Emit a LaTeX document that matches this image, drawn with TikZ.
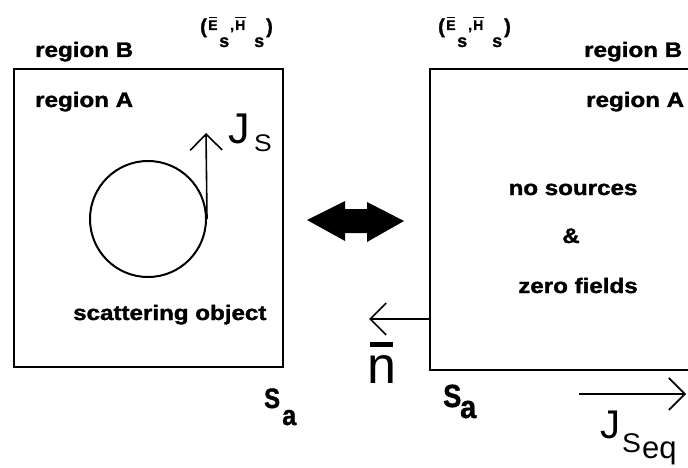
\documentclass[tikz,border=0pt]{standalone}
\usepackage{fontspec}
\setmainfont{Liberation Sans}
\newfontfamily\heavy[FakeBold=1.4]{Liberation Sans Bold}
\usepackage{graphicx}
\usetikzlibrary{arrows.meta}
% letter with a bar above it: #1 letter, #2 bar height, #3 bar width
\newcommand\barred[3]{\ooalign{#1\cr\hidewidth\rule[#2]{#3}{0.085em}\hidewidth}}
\newcommand\wide[1]{\scalebox{1.15}[1]{#1}}
\tikzset{
  txt/.style={inner sep=0pt, font=\fontsize{21}{21}\selectfont\heavy},
  big/.style={inner sep=0pt},
  frame/.style={line width=2.4pt},
  thin/.style={line width=1.6pt},
  vec/.style={thin, -{Straight Barb[length=16pt, width=32pt, line width=1.6pt]}},
  fldmain/.style={inner sep=0pt, anchor=base west, font=\fontsize{14}{14}\selectfont\heavy},
  fldparen/.style={inner sep=0pt, anchor=base west, font=\fontsize{20}{20}\selectfont\heavy},
  fldsub/.style={inner sep=0pt, anchor=base west, font=\fontsize{18}{18}\selectfont\heavy},
  sabig/.style={inner sep=0pt, anchor=base west, font=\fontsize{#1}{#1}\selectfont\heavy},
}
\begin{document}
\begin{tikzpicture}[x=1pt, y=-1pt]
\useasboundingbox (0,0) rectangle (688,468);

% scattered field pair (E_s, H_s), drawn piece by piece
\begin{scope}[shift={(200,0)}, name prefix=fL-]
  \node[fldparen] (lp) at (0,33) {(};
  \node[fldmain] (E) at (8,30) {\barred{E}{0.86em}{0.55em}};
  \node[fldsub] (sE) at (19,47) {s};
  \node[fldmain] (cm) at (30,30) {,};
  \node[fldmain] (H) at (35,30) {\barred{H}{0.86em}{0.8em}};
  \node[fldsub] (sH) at (54,47) {s};
  \node[fldparen] (rp) at (66,33) {)};
\end{scope}
\begin{scope}[shift={(438,0)}, name prefix=fR-]
  \node[fldparen] (lp) at (0,33) {(};
  \node[fldmain] (E) at (8,30) {\barred{E}{0.86em}{0.55em}};
  \node[fldsub] (sE) at (19,47) {s};
  \node[fldmain] (cm) at (30,30) {,};
  \node[fldmain] (H) at (35,30) {\barred{H}{0.86em}{0.8em}};
  \node[fldsub] (sH) at (54,47) {s};
  \node[fldparen] (rp) at (66,33) {)};
\end{scope}

% left box: scatterer with its equivalent surface current
\node[frame, draw, minimum width=269pt, minimum height=298pt, inner sep=0pt] (boxL) at (148.5,218) {};
\node[txt, anchor=base west] (regBL) at (35,57) {\wide{region B}};
\node[txt, anchor=base west] (regAL) at (35,107) {\wide{region A}};
\node[circle, draw, line width=2pt, minimum size=116pt, inner sep=0pt] (obj) at (148,219) {};
\coordinate (jsTip) at (206,133);
\draw[vec] (obj.east) -- (jsTip);
\node[big, anchor=base west, font=\fontsize{43}{43}\selectfont] (jsJ) at (228,143) {J};
\node[big, anchor=base west, font=\fontsize{24}{24}\selectfont] (jsS) at (254,152) {\scalebox{1.1}[1]{S}};
\node[txt, anchor=base west] (scat) at (73,320) {\wide{scattering object}};
\node[sabig=28] (saLS) at (264,408) {\scalebox{0.85}[1]{S}};
\node[sabig=28] (saLa) at (282,425) {\scalebox{0.9}[1]{a}};

% central equivalence arrow
\fill (307,220) -- (345,201) -- (345,209) -- (367,209) -- (367,202) -- (404,221)
      -- (367,242) -- (367,233) -- (345,233) -- (345,241) -- cycle;

% right box: equivalent problem, open to the right
\coordinate (rTop) at (688,69);
\coordinate (rTL) at (430,69);
\coordinate (rBL) at (430,370);
\coordinate (rBot) at (688,370);
\draw[frame] (rTop) -- (rTL) -- (rBL) -- (rBot);
\node[txt, anchor=base west] (regBR) at (584,57) {\wide{region B}};
\node[txt, anchor=base west] (regAR) at (586,107) {\wide{region A}};
\node[txt, anchor=base] (nosrc) at (573,195) {\wide{no sources}};
\node[txt, anchor=base] (amp) at (571,243) {\wide{\&}};
\node[txt, anchor=base] (zero) at (578,293) {\wide{zero fields}};

% outward normal on the surface
\coordinate (nBase) at (430,319);
\coordinate (nTip) at (369,319);
\draw[vec] (nBase) -- (nTip);
\node[big, anchor=base west, font=\fontsize{52}{52}\selectfont] (nlab) at (367,383)
  {\barred{n}{0.7em}{0.44em}};

% surface labels and equivalent current
\node[sabig=32] (saRS) at (443,407) {\scalebox{0.85}[1]{S}};
\node[sabig=32] (saRa) at (460,418) {\scalebox{0.9}[1]{a}};
\coordinate (jeqBase) at (579,394);
\coordinate (jeqTip) at (686,394);
\draw[vec] (jeqBase) -- (jeqTip);
\node[big, anchor=base west, font=\fontsize{40}{40}\selectfont] (jeqJ) at (600,438) {J};
\node[big, anchor=base west, font=\fontsize{27}{27}\selectfont] (jeqS) at (622,452) {\scalebox{1.05}[1]{S}};
\node[big, anchor=base west, font=\fontsize{31}{31}\selectfont] (jeqe) at (642,458) {eq};
\end{tikzpicture}
\end{document}
